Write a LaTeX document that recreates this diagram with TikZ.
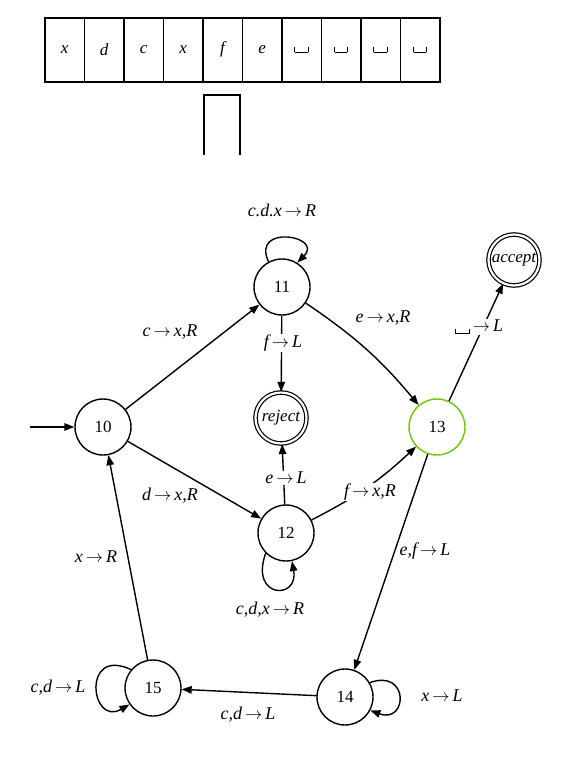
\documentclass[tikz,border=0pt]{standalone}
\usepackage{fontspec}
\setmainfont{Liberation Serif}
\usetikzlibrary{arrows.meta}
\newcommand\blanksym{\leavevmode\raisebox{-0.12em}{\rule{0.7pt}{0.3em}\rule{0.75em}{0.7pt}\rule{0.7pt}{0.3em}}}
\newcommand\tto{\,$\rightarrow$\,}
\definecolor{curgreen}{RGB}{102,204,0}
\begin{document}
\begin{tikzpicture}[x=1pt,y=1pt,
  font=\fontsize{17}{19}\selectfont,
  st/.style={circle,draw,line width=1.4pt,minimum size=56pt,inner sep=0pt},
  acc/.style={circle,draw,double,double distance=2.2pt,line width=1.2pt,minimum size=51pt,inner sep=0pt,font=\fontsize{17}{19}\selectfont\itshape},
  tr/.style={->,line width=1.4pt},
  lab/.style={font=\fontsize{18}{20}\selectfont\itshape,inner sep=1pt},
  wlab/.style={lab,fill=white},
  cell/.style={draw,line width=1.6pt,minimum width=39.5pt,minimum height=64pt,inner sep=0pt,anchor=north west,font=\fontsize{17}{19}\selectfont\itshape},
  >={Triangle[length=10pt,width=7.5pt]}]
\useasboundingbox (0,0) rectangle (582,-764);

% tape
\foreach \s [count=\i from 0] in {x,d,c,x,f,e,\blanksym,\blanksym,\blanksym,\blanksym}{
  \node[cell] (t\i) at ({44+39.5*\i},-17) {\s};
}
% head
\draw[line width=1.6pt] (204,-155) -- (204,-95) -- (240,-95) -- (240,-155);

% states
\node[st] (n10) at (103,-427) {10};
\node[st] (n11) at (282,-287) {11};
\node[acc] (rej) at (281,-418) {reject};
\node[st,draw=curgreen] (n13) at (437,-427) {13};
\node[acc] (accn) at (514,-260) {accept};
\node[st] (n12) at (286,-533) {12};
\node[st] (n14) at (345,-697) {14};
\node[st] (n15) at (153,-688) {15};
\coordinate (start) at (30,-427);

% labels
\node[lab] (l1) at (282,-210) {c.d.x\tto R};
\node[lab] (l2) at (170,-332) {c\tto x,R};
\node[lab] (l3) at (170,-496) {d\tto x,R};
\node[lab] (l5) at (383,-318) {e\tto x,R};
\node[lab] (l9) at (270,-610) {c,d,x\tto R};
\node[lab] (l10) at (425,-551) {e,f\tto L};
\node[lab] (l11) at (96,-557) {x\tto R};
\node[lab] (l12) at (58,-688) {c,d\tto L};
\node[lab] (l13) at (248,-715) {c,d\tto L};
\node[lab] (l14) at (442,-696) {x\tto L};

% transitions
\draw[tr] (start) -- (n10);
\draw[tr] (n10) -- (n11);
\draw[tr] (n10) -- (n12);
\draw[tr] (n11) to[bend left=8] (n13);
\draw[tr] (n11) -- (rej);
\draw[tr] (n12) -- (rej);
\draw[tr] (n12) to[bend right=8] (n13);
\draw[tr] (n13) -- (accn);
\draw[tr] (n13) -- (n14);
\draw[tr] (n14) -- (n15);
\draw[tr] (n15) -- (n10);

% loops
\draw[tr] (n11.118) .. controls +(115:42) and +(45:38) .. (n11.58);
\draw[tr] (n12.225) .. controls +(250:48) and +(280:40) .. (n12.282);
\draw[tr] (n14.30) .. controls +(20:42) and +(-20:40) .. (n14.-28);
\draw[tr] (n15.140) .. controls +(155:55) and +(210:45) .. (n15.215);

% labels on top of lines
\node[wlab] (l4) at (283,-343) {f\tto L};
\node[wlab] (l7) at (286,-478) {e\tto L};
\node[wlab] (l6) at (479,-327) {\blanksym\tto L};
\node[wlab] (l8) at (370,-492) {f\tto x,R};
\end{tikzpicture}
\end{document}
